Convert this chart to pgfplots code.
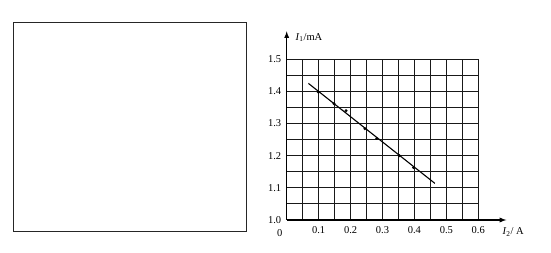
\documentclass[border=0pt]{standalone}
\usepackage{fontspec}
\setmainfont{Liberation Serif}
\usepackage{pgfplots}
\pgfplotsset{compat=1.18}
\begin{document}
\begin{tikzpicture}[x=1pt,y=1pt]
\useasboundingbox (0,0) rectangle (551,253);
\draw[line width=1.2pt, black!85] (13.3,21.3) rectangle (246.7,230.3);
\begin{axis}[
  at={(286.7pt,33pt)}, anchor=south west,
  scale only axis, width=191.6pt, height=160.7pt,
  xmin=0, xmax=0.6, ymin=1.0, ymax=1.5,
  xtick={0,0.1,0.2,0.3,0.4,0.5,0.6},
  xticklabels={,0.1,0.2,0.3,0.4,0.5,0.6},
  ytick={1.0,1.1,1.2,1.3,1.4,1.5},
  yticklabels={1.0,1.1,1.2,1.3,1.4,1.5},
  minor xtick={0.05,0.15,0.25,0.35,0.45,0.55},
  minor ytick={1.05,1.15,1.25,1.35,1.45},
  grid=both,
  major grid style={black!90, line width=1.05pt},
  minor grid style={black!90, line width=1.05pt},
  major tick length=0pt, minor tick length=0pt,
  axis lines=left,
  axis line style={line width=1.3pt, -{latex[scale=1.4]}, shorten >=-28pt},
  tick label style={font=\fontsize{10.5}{12}\selectfont},
  xticklabel style={yshift=-3pt},
  yticklabel style={xshift=-2pt},
  clip=false,
]
\addplot[black, line width=1.1pt, no marks] coordinates {(0.068,1.425) (0.464,1.114)};
\addplot[black, only marks, mark=*, mark size=1.3pt] coordinates {
  (0.099,1.398) (0.148,1.362) (0.186,1.340) (0.245,1.284) (0.282,1.254) (0.353,1.200) (0.397,1.163)};
\node[anchor=north, font=\fontsize{10.5}{12}\selectfont] at (axis cs:0,1.0) [xshift=-7pt, yshift=-6pt] {0};
\end{axis}
\node[anchor=west, font=\fontsize{10.5}{12}\selectfont] at (292,215.5) {\textit{I}\textsubscript{1}/mA};
\node[anchor=west, font=\fontsize{10.5}{12}\selectfont] at (499,21) {\textit{I}\textsubscript{2}/ A};
\end{tikzpicture}
\end{document}
